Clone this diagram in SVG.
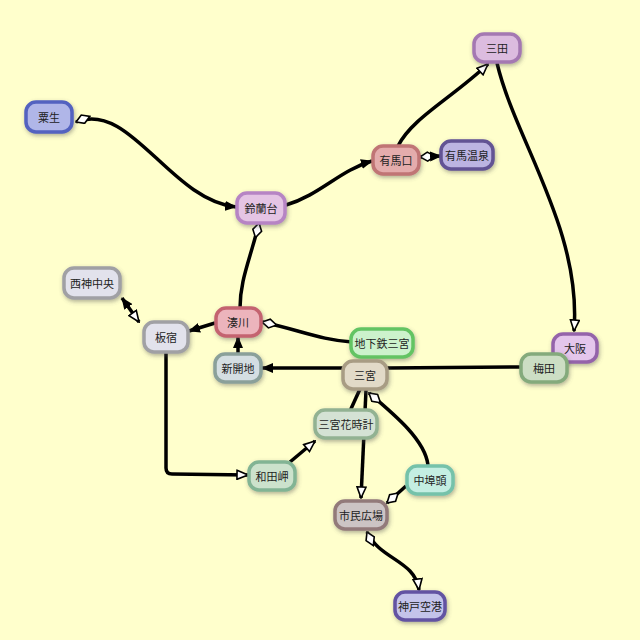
<svg xmlns="http://www.w3.org/2000/svg" width="640" height="640" viewBox="0 0 640 640">
<defs>
<filter id="sh" x="-30%" y="-30%" width="160%" height="160%">
<feDropShadow dx="1" dy="2" stdDeviation="2" flood-color="#555" flood-opacity="0.45"/>
</filter>
<marker id="af" viewBox="0 0 12 10" refX="11" refY="5" markerWidth="12" markerHeight="10" markerUnits="userSpaceOnUse" orient="auto-start-reverse">
<path d="M0,0 L12,5 L0,10 z" fill="#000"/>
</marker>
<marker id="ao" viewBox="0 0 13 11" refX="12" refY="5.5" markerWidth="13" markerHeight="11" markerUnits="userSpaceOnUse" orient="auto-start-reverse">
<path d="M1,1 L12,5.5 L1,10 z" fill="#fff" stroke="#000" stroke-width="1.6"/>
</marker>
<marker id="dm" viewBox="0 0 17 11" refX="16" refY="5.5" markerWidth="17" markerHeight="11" markerUnits="userSpaceOnUse" orient="auto-start-reverse">
<path d="M1,5.5 L8.5,1 L16,5.5 L8.5,10 z" fill="#fff" stroke="#000" stroke-width="1.6"/>
</marker>
</defs>
<style>
.e{fill:none;stroke:#000;stroke-width:3.5;}
.n rect{stroke-width:3.5;filter:url(#sh);}
.n text{font-family:"Noto Sans CJK JP","Noto Sans",sans-serif;font-size:11px;fill:#222;text-anchor:middle;dominant-baseline:central;}
</style>
<rect width="640" height="640" fill="#ffffcc"/>
<g id="connectors">
<path class="e" d="M76,122 C130,100 170,200 236,207" marker-start="url(#dm)" marker-end="url(#af)"/>
<path class="e" d="M286,205 C320,195 340,170 372,161" marker-end="url(#af)"/>
<path class="e" d="M398,146 C412,118 452,98 488,64" marker-end="url(#ao)"/>
<path class="e" d="M420,157 L441,156" marker-start="url(#dm)" marker-end="url(#af)"/>
<path class="e" d="M497,63 C515,140 582,230 574,331" marker-end="url(#ao)"/>
<path class="e" d="M259,223 C250,260 240,280 240,308" marker-start="url(#dm)"/>
<path class="e" d="M122,298 L139,322" marker-start="url(#af)" marker-end="url(#ao)"/>
<path class="e" d="M215,323 L189,331" marker-end="url(#af)"/>
<path class="e" d="M262,322 C300,330 320,340 352,342" marker-start="url(#dm)"/>
<path class="e" d="M238,354 L238,337" marker-end="url(#af)"/>
<path class="e" d="M343,368 L262,368" marker-end="url(#af)"/>
<path class="e" d="M521,367 L387,368"/>
<path class="e" d="M166,352 L166,468 Q166,474 172,474 L248,475" marker-end="url(#ao)"/>
<path class="e" d="M290,462 L315,441" marker-end="url(#ao)"/>
<path class="e" d="M360,389 L350,411"/>
<path class="e" d="M366,390 L361,498" marker-end="url(#ao)"/>
<path class="e" d="M369,393 C395,415 425,440 428,465" marker-start="url(#dm)"/>
<path class="e" d="M387,503 L406,486" marker-start="url(#dm)"/>
<path class="e" d="M367,532 C380,560 415,560 419,590" marker-start="url(#dm)" marker-end="url(#ao)"/>
</g>
<g id="n-aono" class="n"><rect x="26" y="102" width="46" height="30" rx="10" fill="#b0b6e8" stroke="#5262c0"/><text x="49" y="117">粟生</text></g>
<g id="n-sanda" class="n"><rect x="474" y="34" width="46" height="28" rx="10" fill="#dcbcdf" stroke="#a478b2"/><text x="497" y="48">三田</text></g>
<g id="n-arimaguchi" class="n"><rect x="373" y="146" width="46" height="28" rx="10" fill="#e4acac" stroke="#c07474"/><text x="396" y="160">有馬口</text></g>
<g id="n-arimaonsen" class="n"><rect x="441" y="141" width="52" height="28" rx="10" fill="#bcb4e2" stroke="#625294"/><text x="467" y="155">有馬温泉</text></g>
<g id="n-suzurandai" class="n"><rect x="237" y="193" width="48" height="30" rx="10" fill="#e4c4e4" stroke="#b684c4"/><text x="261" y="208">鈴蘭台</text></g>
<g id="n-seishin" class="n"><rect x="64" y="268" width="56" height="30" rx="10" fill="#e2e2ec" stroke="#a0a0a4"/><text x="92" y="283">西神中央</text></g>
<g id="n-itayado" class="n"><rect x="144" y="322" width="44" height="30" rx="10" fill="#e2e2ec" stroke="#a0a0a4"/><text x="166" y="337">板宿</text></g>
<g id="n-minatogawa" class="n"><rect x="216" y="308" width="45" height="28" rx="10" fill="#ecb4bc" stroke="#c46470"/><text x="238" y="322">湊川</text></g>
<g id="n-chikatetsu" class="n"><rect x="351" y="329" width="62" height="28" rx="10" fill="#ccf2cc" stroke="#64c464"/><text x="382" y="343">地下鉄三宮</text></g>
<g id="n-shinkaichi" class="n"><rect x="215" y="354" width="46" height="28" rx="10" fill="#d4dee2" stroke="#8aa09a"/><text x="238" y="368">新開地</text></g>
<g id="n-sannomiya" class="n"><rect x="343" y="361" width="44" height="28" rx="10" fill="#e2dac8" stroke="#a89c84"/><text x="365" y="375">三宮</text></g>
<g id="n-osaka" class="n"><rect x="553" y="334" width="44" height="28" rx="10" fill="#e4c6ec" stroke="#9464aa"/><text x="575" y="348">大阪</text></g>
<g id="n-umeda" class="n"><rect x="521" y="354" width="46" height="28" rx="10" fill="#ccdec4" stroke="#84aa7c"/><text x="544" y="368">梅田</text></g>
<g id="n-hanadokei" class="n"><rect x="315" y="410" width="62" height="28" rx="10" fill="#d4e2d4" stroke="#92b292"/><text x="346" y="424">三宮花時計</text></g>
<g id="n-wadamisaki" class="n"><rect x="249" y="462" width="46" height="28" rx="10" fill="#cce2cc" stroke="#82b494"/><text x="272" y="476">和田岬</text></g>
<g id="n-nakafuto" class="n"><rect x="407" y="466" width="46" height="28" rx="10" fill="#c4eee2" stroke="#74c2aa"/><text x="430" y="480">中埠頭</text></g>
<g id="n-shimin" class="n"><rect x="335" y="501" width="52" height="28" rx="10" fill="#ccc4c4" stroke="#927a7a"/><text x="361" y="515">市民広場</text></g>
<g id="n-kobeairport" class="n"><rect x="395" y="592" width="50" height="28" rx="10" fill="#c4c4ea" stroke="#6252a2"/><text x="420" y="606">神戸空港</text></g>
</svg>
